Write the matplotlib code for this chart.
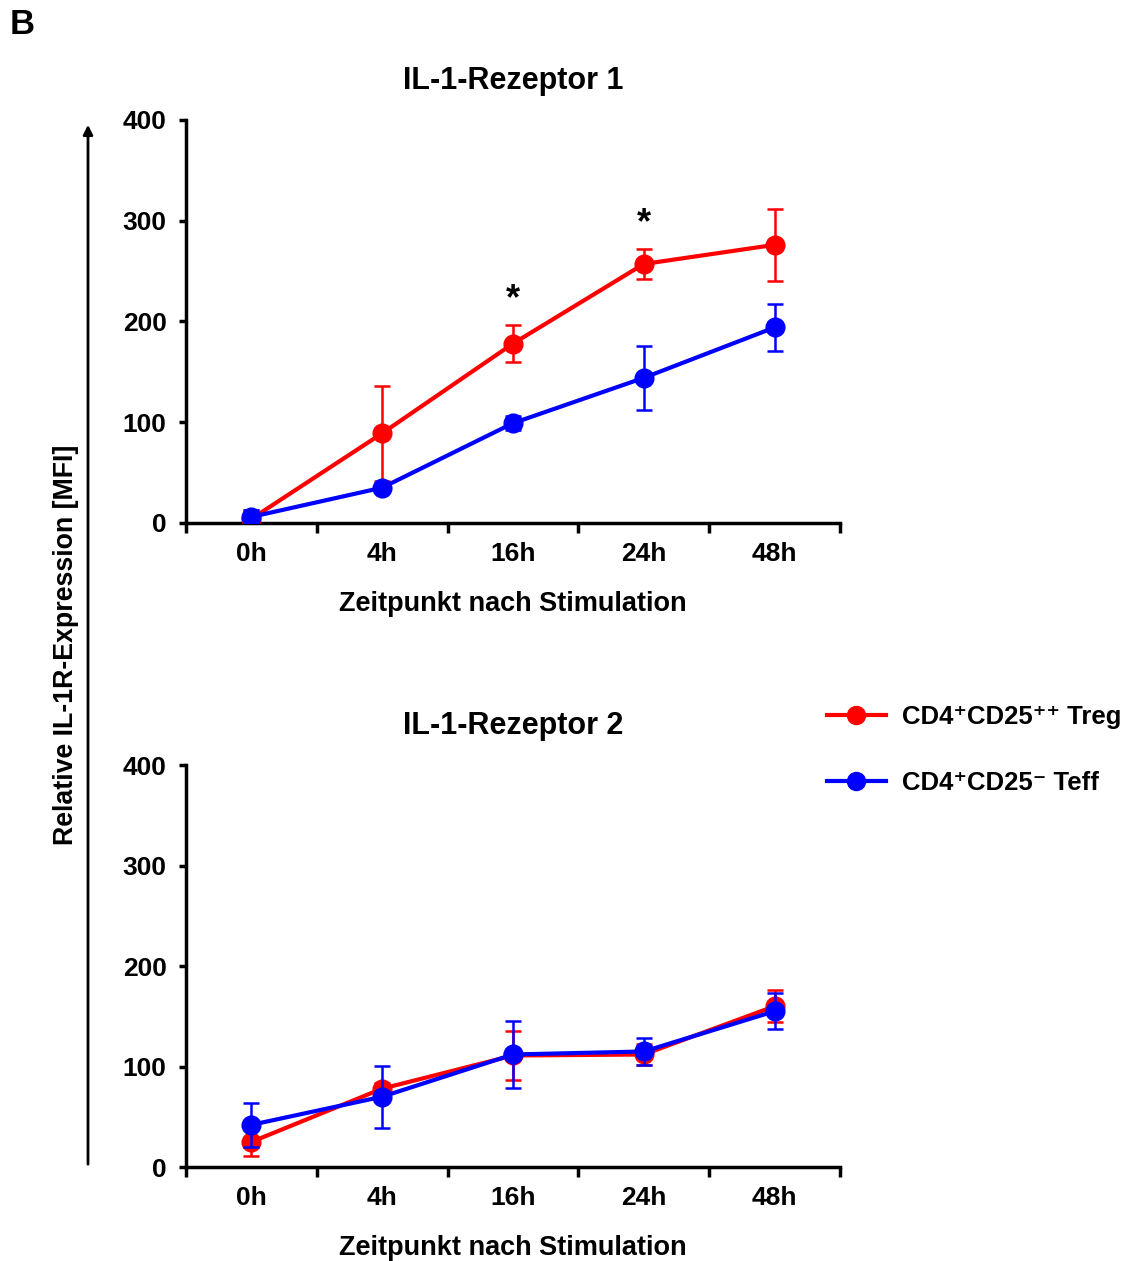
import matplotlib
matplotlib.use("Agg")
import matplotlib.pyplot as plt
import numpy as np
from matplotlib.lines import Line2D

plt.rcParams['font.family'] = ['Liberation Sans', 'DejaVu Sans']
plt.rcParams['font.weight'] = 'bold'

timepoints = ["0h", "4h", "16h", "24h", "48h"]

r1_treg = [4, 89, 178, 257, 276]
r1_treg_err = [9, 47, 18, 15, 36]
r1_teff = [6, 35, 99, 144, 194]
r1_teff_err = [7, 3, 7, 32, 23]

r2_treg = [25, 78, 111, 112, 160]
r2_treg_err = [14, 6, 24, 10, 16]
r2_teff = [42, 70, 112, 115, 155]
r2_teff_err = [22, 31, 33, 13, 18]

sig_r1 = ["", "", "*", "*", ""]

RED = "#ff0000"
BLUE = "#0000ff"

fig = plt.figure(figsize=(11.32, 12.61), dpi=100)

def draw_panel(ax, title, treg, treg_err, teff, teff_err, sig=None):
    x = np.arange(len(timepoints)) + 0.5
    ax.errorbar(x, treg, yerr=treg_err, color=RED, lw=3, marker='o', ms=13.5,
                capsize=6, elinewidth=1.8, capthick=1.8, zorder=3)
    ax.errorbar(x, teff, yerr=teff_err, color=BLUE, lw=3, marker='o', ms=13.5,
                capsize=6, elinewidth=1.8, capthick=1.8, zorder=4)
    ax.set_xlim(0, len(timepoints))
    ax.set_ylim(0, 400)
    ax.set_yticks([0, 100, 200, 300, 400])
    ax.set_xticks(np.arange(len(timepoints) + 1))
    ax.set_xticklabels([])
    ax.set_xticks(x, minor=True)
    ax.set_xticklabels(timepoints, minor=True)
    ax.tick_params(axis='x', which='minor', length=0, pad=14, labelsize=19)
    ax.tick_params(axis='x', which='major', length=7, width=2.5, direction='out')
    ax.tick_params(axis='y', length=5, width=2.5, direction='out', labelsize=19, pad=9)
    for lbl in ax.get_xticklabels(minor=True) + ax.get_yticklabels():
        lbl.set_fontweight('bold')
    for s in ['top', 'right']:
        ax.spines[s].set_visible(False)
    for s in ['left', 'bottom']:
        ax.spines[s].set_linewidth(2.5)
    ax.set_title(title, fontsize=22, fontweight='bold', pad=22)
    ax.set_xlabel("Zeitpunkt nach Stimulation", fontsize=19.5, fontweight='bold', labelpad=18)
    if sig is not None:
        for xi, yi, ei, s in zip(x, treg, treg_err, sig):
            if s:
                ax.text(xi, yi + ei + 8, s, ha='center', va='bottom', fontsize=26, fontweight='bold')

ax1 = fig.add_axes([0.1643, 0.5853, 0.5777, 0.3196])
draw_panel(ax1, "IL-1-Rezeptor 1", r1_treg, r1_treg_err, r1_teff, r1_teff_err, sig_r1)
ax2 = fig.add_axes([0.1643, 0.0745, 0.5777, 0.3188])
draw_panel(ax2, "IL-1-Rezeptor 2", r2_treg, r2_treg_err, r2_teff, r2_teff_err)

# Shared y label with arrow
fig.patches.append(matplotlib.patches.FancyArrowPatch(
    (88 / 1132, 1 - 1167 / 1261), (88 / 1132, 1 - 122 / 1261),
    transform=fig.transFigure, arrowstyle='-|>', mutation_scale=14,
    lw=2, color='black'))
fig.text(66 / 1132, 1 - 645 / 1261, "Relative IL-1R-Expression [MFI]", rotation=90,
         ha='center', va='center', fontsize=19.3, fontweight='bold')

fig.text(10 / 1132, 1 - 25 / 1261, "B", fontsize=25, fontweight='bold', ha='left', va='center')

# Legend
handles = [Line2D([], [], color=RED, lw=3, marker='o', ms=13),
           Line2D([], [], color=BLUE, lw=3, marker='o', ms=13)]
labels = ["CD4\u207aCD25\u207a\u207a Treg", "CD4\u207aCD25\u207b Teff"]
fig.legend(handles, labels, loc='center left', bbox_to_anchor=(0.7257, 1 - 750 / 1261),
           frameon=False, handlelength=2.3, handletextpad=0.65, labelspacing=1.6,
           borderpad=0.2, borderaxespad=0.0,
           prop={'weight': 'bold', 'size': 18.5, 'family': ['Liberation Sans', 'DejaVu Sans']})

fig.savefig("out.png", dpi=100)
